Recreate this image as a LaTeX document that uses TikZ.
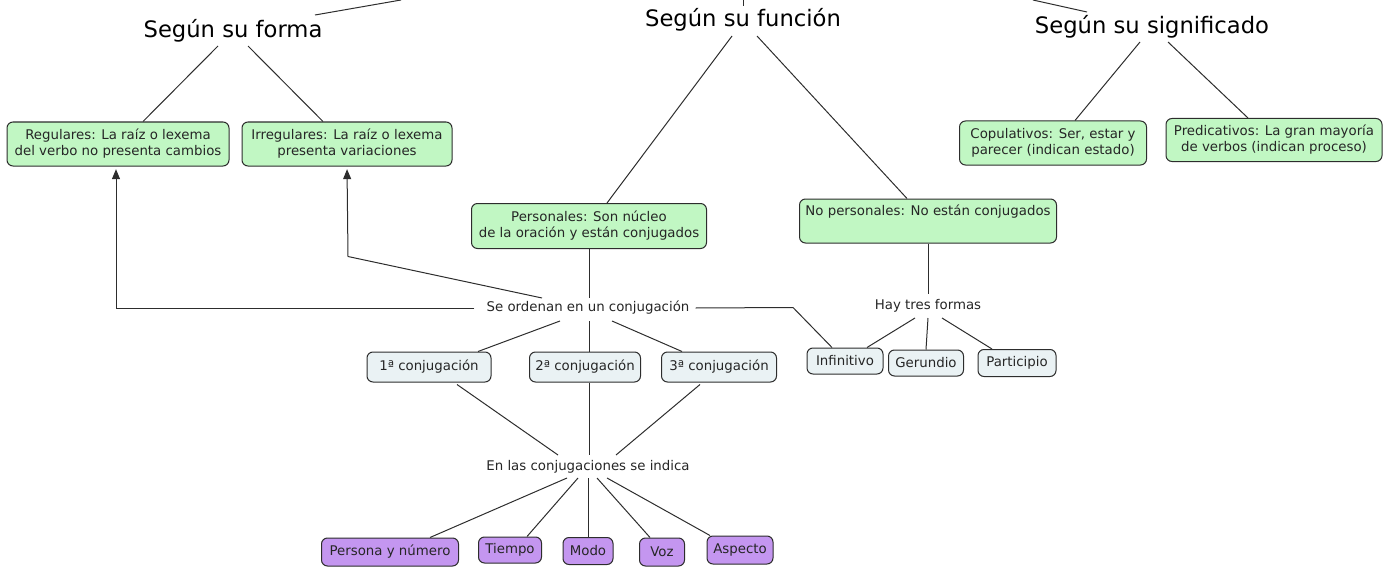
\documentclass[tikz,border=0pt]{standalone}
\usepackage{fontspec}
\setmainfont{DejaVu Sans}
\usetikzlibrary{calc,arrows.meta}
\definecolor{gfill}{RGB}{193,247,195}
\definecolor{bfill}{RGB}{234,242,244}
\definecolor{pfill}{RGB}{196,150,240}
\definecolor{edgec}{RGB}{45,45,45}
\begin{document}
\begin{tikzpicture}[x=0.75pt,y=-0.75pt,
  title/.style={inner sep=0pt,font=\fontsize{17}{20}\selectfont},
  lbl/.style={inner sep=0pt,font=\fontsize{10}{12}\selectfont,text=black!85},
  box/.style 2 args={draw=edgec,line width=0.75pt,rounded corners=4.5pt,align=center,
     inner sep=0pt,font=\fontsize{10}{12}\selectfont,text=black!85,
     minimum width=#1*0.75pt,minimum height=#2*0.75pt},
  gbox/.style 2 args={box={#1}{#2},fill=gfill},
  bbox/.style 2 args={box={#1}{#2},fill=bfill},
  pbox/.style 2 args={box={#1}{#2},fill=pfill},
  con/.style={draw=edgec,line width=0.75pt},
  arr/.style={con,-{Triangle[width=6pt,length=7.5pt]},shorten >=2pt}]
\useasboundingbox (0,0) rectangle (1389,567);
% titles
\node[title] (forma) at (233,31) {Según su forma};
\node[title] (funcion) at (743,20) {Según su función};
\node[title] (signif) at (1152,27) {Según su significado};
% green boxes
\node[gbox={222}{44}] (reg) at (118,144) {Regulares: La raíz o lexema\\del verbo no presenta cambios};
\node[gbox={210}{44}] (irr) at (347,144) {Irregulares: La raíz o lexema\\presenta variaciones};
\node[gbox={187}{44}] (cop) at (1053,143) {Copulativos: Ser, estar y\\parecer (indican estado)};
\node[gbox={216}{43}] (pred) at (1274,140) {Predicativos: La gran mayoría\\de verbos (indican proceso)};
\node[gbox={235}{45}] (pers) at (589,226) {Personales: Son núcleo\\de la oración y están conjugados};
\node[gbox={257}{44}] (nop) at (928,221) {No personales: No están conjugados\\\strut};
% labels
\node[lbl] (ord) at (588,308) {Se ordenan en un conjugación};
\node[lbl] (hay) at (928,306) {Hay tres formas};
\node[lbl] (enlas) at (588,467) {En las conjugaciones se indica};
% grey boxes
\node[bbox={124}{30}] (c1) at (429,367) {1ª conjugación};
\node[bbox={111}{30}] (c2) at (585,367) {2ª conjugación};
\node[bbox={115}{30}] (c3) at (719,367) {3ª conjugación};
\node[bbox={76}{26}] (inf) at (845,361) {Infinitivo};
\node[bbox={75}{26}] (ger) at (926,363) {Gerundio};
\node[bbox={78}{27}] (par) at (1017,363) {Participio};
% purple boxes
\node[pbox={137}{28}] (per) at (390,552) {Persona y número};
\node[pbox={63}{26}] (tie) at (510,550) {Tiempo};
\node[pbox={50}{27}] (mod) at (588,551) {Modo};
\node[pbox={45}{28}] (voz) at (662,552) {Voz};
\node[pbox={66}{28}] (asp) at (740,550) {Aspecto};
% off-page coordinates
\coordinate (topA) at (401,0);
\coordinate (topB) at (743,0);
\coordinate (topC) at (1033,0);
% connectors
\draw[con] ($(forma)+(82,-16)$) -- (topA);
\draw[con] ($(funcion)+(0,-14)$) -- (topB);
\draw[con] ($(signif)+(-65,-15)$) -- (topC);
\draw[con] ($(forma)+(-15,15)$) -- ($(reg.north)+(25,0)$);
\draw[con] ($(forma)+(15,15)$) -- ($(irr.north)+(-24,0)$);
\draw[con] ($(funcion)+(-11,16)$) -- ($(pers.north)+(18,0)$);
\draw[con] ($(funcion)+(14,16)$) -- ($(nop.north)+(-21,0)$);
\draw[con] ($(signif)+(-12,15)$) -- ($(cop.north)+(22,0)$);
\draw[con] ($(signif)+(16,15)$) -- ($(pred.north)+(-26,0)$);
\draw[con] (pers.south) -- ($(ord)+(1,-10)$);
\draw[arr] ($(ord.west)+(-12,0)$) -| ($(reg.south)+(-2,0)$);
\draw[arr] ($(ord)+(-46,-10)$) -- ($(irr.south)+(1,90)$) -- (irr.south);
\draw[con] ($(ord.east)+(6,0)$) -- ($(inf.north)+(-52,-40)$) -- ($(inf.north)+(-13,0)$);
\draw[con] ($(ord)+(-28,13)$) -- ($(c1.north)+(49,0)$);
\draw[con] ($(ord)+(1,13)$) -- ($(c2.north)+(4,0)$);
\draw[con] ($(ord)+(24,13)$) -- ($(c3.north)+(-37,0)$);
\draw[con] (nop.south) -- ($(hay)+(0,-12)$);
\draw[con] ($(hay)+(-13,12)$) -- ($(inf.north)+(22,0)$);
\draw[con] ($(hay)+(0,12)$) -- (ger.north);
\draw[con] ($(hay)+(14,12)$) -- ($(par.north)+(-25,0)$);
\draw[con] ($(c1.south)+(28,2)$) -- ($(enlas)+(-30,-12)$);
\draw[con] ($(c2.south)+(4,0)$) -- ($(enlas)+(1,-12)$);
\draw[con] ($(c3.south)+(-19,2)$) -- ($(enlas)+(28,-12)$);
\draw[con] ($(enlas)+(-21,11)$) -- ($(per.north)+(40,0)$);
\draw[con] ($(enlas)+(-10,11)$) -- ($(tie.north)+(17,0)$);
\draw[con] ($(enlas)+(0,11)$) -- (mod.north);
\draw[con] ($(enlas)+(9,11)$) -- ($(voz.north)+(-12,0)$);
\draw[con] ($(enlas)+(19,11)$) -- ($(asp.north)+(-30,0)$);
\end{tikzpicture}
\end{document}
